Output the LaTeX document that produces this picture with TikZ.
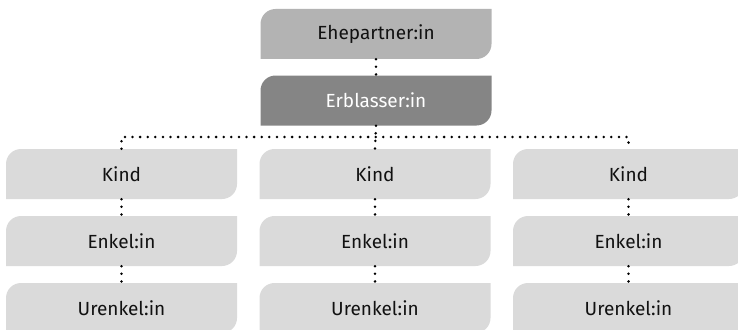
\documentclass[tikz,border=0pt]{standalone}
\usepackage{fontspec}
\setmainfont{Fira Sans}
\usetikzlibrary{calc}
\definecolor{ehegray}{HTML}{B3B3B3}
\definecolor{erbgray}{HTML}{858585}
\definecolor{kindgray}{HTML}{DADADA}
\definecolor{textdark}{HTML}{111111}
\tikzset{
  leafbox/.style={minimum width=231pt, minimum height=50pt, inner sep=0pt,
    font=\fontsize{19}{22}\selectfont, text=textdark,
    path picture={\fill[#1]
      (path picture bounding box.south west)
      -- ([yshift=-15pt]path picture bounding box.north west)
      arc[start angle=180, end angle=90, radius=15pt]
      -- (path picture bounding box.north east)
      -- ([yshift=15pt]path picture bounding box.south east)
      arc[start angle=0, end angle=-90, radius=15pt]
      -- cycle;}},
  dotline/.style={line width=2.8pt, line cap=round, dash pattern=on 0pt off 7.6pt}
}
\begin{document}
\begin{tikzpicture}[x=1pt, y=-1pt]
  \useasboundingbox (0,0) rectangle (738,329);
  \clip (0,0) rectangle (738,329);
  % top of the tree
  \node[leafbox=ehegray] (ehe) at (376,34) {Ehepartner:in};
  \node[leafbox=erbgray, text=white] (erb) at (376,100.5) {Erblasser:in};
  \draw[dotline] (ehe.south) -- (erb.north);
  % the three lines of descent
  \foreach \i/\x in {1/121.5, 2/375, 3/628.5} {
    \node[leafbox=kindgray] (kind\i) at (\x,174) {Kind};
    \node[leafbox=kindgray] (enkel\i) at (\x,241) {Enkel:in};
    \node[leafbox=kindgray] (urenkel\i) at (\x,308) {Urenkel:in};
    \draw[dotline] (kind\i.south) -- (enkel\i.north);
    \draw[dotline] (enkel\i.south) -- (urenkel\i.north);
  }
  \coordinate (hub) at (376,137);
  \draw[dotline] (erb.south) -- (kind2.north);
  \draw[dotline] (kind1.north) -- (kind1.north |- hub) -- (kind3.north |- hub) -- (kind3.north);
\end{tikzpicture}
\end{document}
